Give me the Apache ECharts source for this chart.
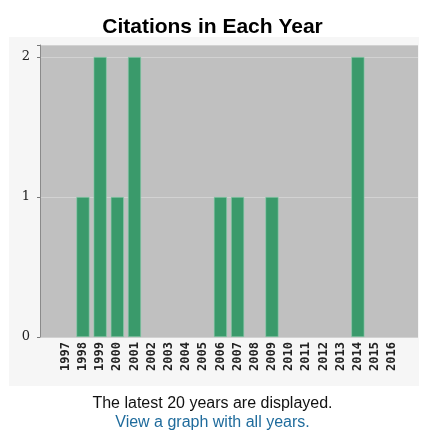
<!DOCTYPE html>
<html><head><meta charset="utf-8">
<script src="https://cdn.jsdelivr.net/npm/echarts@6/dist/echarts.min.js"></script>
<style>html,body{margin:0;padding:0;background:#fff;}#c{width:425px;height:430px;}</style>
</head><body><div id="c"></div>
<script>
const years = ['1997','1998','1999','2000','2001','2002','2003','2004','2005','2006','2007','2008','2009','2010','2011','2012','2013','2014','2015','2016'];
const citations = [0,1,2,1,2,0,0,0,0,1,1,0,1,0,0,0,0,2,0,0];
const yTicks = [0,1,2];

// pad one empty slot each side (the plot area is wider than the year bands)
const cats = [''].concat(years, ['']);
const vals = [null].concat(citations.map(v => v === 0 ? null : v), [null]);

const chart = echarts.init(document.getElementById('c'));
chart.setOption({
  animation: false,
  backgroundColor: '#ffffff',
  graphic: [{
    type: 'rect', z: -10, silent: true,
    shape: {x: 9, y: 37, width: 410, height: 349},
    style: {fill: '#f6f6f6'}
  }],
  title: [
    {text: 'Citations in Each Year', left: 'center', top: 12,
     textStyle: {fontFamily: 'Liberation Sans, Arial, sans-serif', fontSize: 21, fontWeight: 'bold', color: '#000'}},
    {text: 'The latest 20 years are displayed.', left: 'center', top: 391,
     textStyle: {fontFamily: 'Liberation Sans, Arial, sans-serif', fontSize: 16, fontWeight: 'normal', color: '#111'}},
    {text: 'View a graph with all years.', left: 'center', top: 410,
     textStyle: {fontFamily: 'Liberation Sans, Arial, sans-serif', fontSize: 16, fontWeight: 'normal', color: '#1f6b9c'}}
  ],
  grid: {left: 40, right: 7, top: 45, bottom: 93, show: true, backgroundColor: '#c0c0c0', borderWidth: 0},
  xAxis: {
    type: 'category', data: cats,
    axisLine: {show: false}, axisTick: {show: false},
    axisLabel: {rotate: 90, interval: 0, fontFamily: 'DejaVu Sans Mono, monospace', fontSize: 12, fontWeight: 'bold', color: '#222', margin: 5}
  },
  yAxis: {
    type: 'value', min: 0, max: 2.086, interval: 1,
    axisLine: {show: true, lineStyle: {color: '#8a8a8a', width: 1}},
    axisTick: {show: true, length: 3, lineStyle: {color: '#777'}},
    axisLabel: {fontFamily: 'DejaVu Serif, serif', fontSize: 13, color: '#222', margin: 10,
      formatter: v => yTicks.includes(v) ? String(v) : ''},
    splitLine: {show: true, lineStyle: {color: '#d2d2d2', width: 1}}
  },
  series: [{
    type: 'bar', data: vals, barWidth: '76%',
    itemStyle: {color: '#3a9a6b', borderColor: '#8fcfae', borderWidth: 0.6}
  }]
});
</script></body></html>
